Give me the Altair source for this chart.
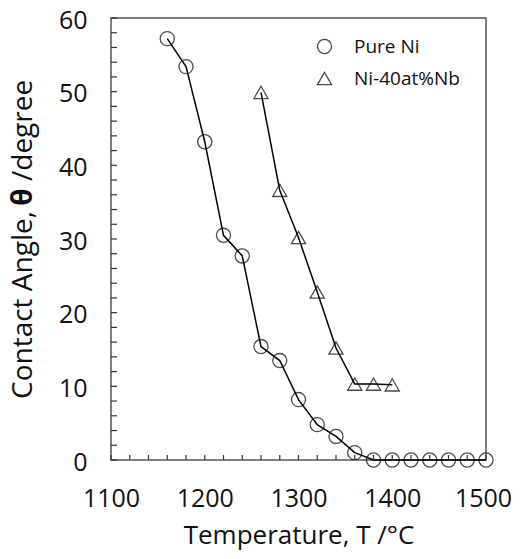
import altair as alt
import pandas as pd

# ---- data ----
ni_temp = [1160, 1180, 1200, 1220, 1240, 1260, 1280, 1300, 1320, 1340, 1360,
           1380, 1400, 1420, 1440, 1460, 1480, 1500]
ni_angle = [57.2, 53.4, 43.2, 30.5, 27.7, 15.4, 13.5, 8.2, 4.8, 3.2, 1.0,
            0, 0, 0, 0, 0, 0, 0]
nb_temp = [1260, 1280, 1300, 1320, 1340, 1360, 1380, 1400]
nb_angle = [49.9, 36.6, 30.2, 22.8, 15.2, 10.3, 10.3, 10.2]
series_names = ["Pure Ni", "Ni-40at%Nb"]
x_labels = [1100, 1200, 1300, 1400, 1500]
y_labels = [0, 10, 20, 30, 40, 50, 60]
x_minor = list(range(1100, 1501, 20))
y_minor = list(range(0, 61, 2))

FONT = "Open Sans"
W, H = 375, 442

df = pd.concat([
    pd.DataFrame({"T": ni_temp, "angle": ni_angle, "series": series_names[0]}),
    pd.DataFrame({"T": nb_temp, "angle": nb_angle, "series": series_names[1]}),
])

xs = alt.Scale(domain=[1100, 1500], nice=False, zero=False)
ys = alt.Scale(domain=[0, 60], nice=False)

x_enc = alt.X("T:Q", scale=xs,
              axis=alt.Axis(values=x_labels, format="d", ticks=False, domain=False, grid=False,
                            labelFlush=False, labelFontSize=25, labelFont=FONT, labelColor="#111",
                            labelOffset={"condition": {"test": "datum.value == 1500", "value": -3},
                                         "value": 0},
                            labelPadding=26, title="Temperature, T /°C",
                            titleFont=FONT, titleFontSize=26, titleFontWeight="normal",
                            titleColor="#111", titlePadding=11))
y_enc = alt.Y("angle:Q", scale=ys,
              axis=alt.Axis(values=y_labels, format="d", ticks=False, domain=False, grid=False,
                            labelFlush=False, labelFontSize=25, labelFont=FONT, labelColor="#111",
                            labelPadding=24, labelOffset=2, title=None))

base = alt.Chart(df)

lines = base.mark_line(color="black", strokeWidth=1.5).encode(
    x=x_enc, y=y_enc, detail="series:N")

points = base.mark_point(filled=False, size=200, strokeWidth=1.3, color="black").encode(
    x=alt.X("T:Q", scale=xs),
    y=alt.Y("angle:Q", scale=ys),
    shape=alt.Shape("series:N",
                    scale=alt.Scale(domain=series_names, range=["circle", "triangle-up"]),
                    legend=alt.Legend(title=None, orient="none", legendX=204, legendY=19,
                                      symbolSize=200, symbolStrokeColor="black",
                                      symbolFillColor="transparent", symbolStrokeWidth=1.3,
                                      labelFont=FONT, labelFontSize=19, labelColor="#111",
                                      labelOffset=20, rowPadding=12, padding=0)),
)

xt = alt.Chart(pd.DataFrame({"v": x_minor})).mark_rule(color="#333", strokeWidth=1.2).encode(
    x=alt.X("v:Q", scale=xs), y=alt.value(H), y2=alt.value(H - 5))
yt = alt.Chart(pd.DataFrame({"v": y_minor})).mark_rule(color="#333", strokeWidth=1.2).encode(
    y=alt.Y("v:Q", scale=ys), x=alt.value(0), x2=alt.value(6))

title_df = pd.DataFrame({"a": [0]})
TX = -87
t1 = alt.Chart(title_df).mark_text(angle=270, align="right", baseline="middle",
                                   font=FONT, fontSize=28, color="#111").encode(
    x=alt.value(TX), y=alt.value(193), text=alt.value("Contact Angle,"))
t2 = alt.Chart(title_df).mark_text(angle=270, align="center", baseline="middle",
                                   font=FONT, fontSize=28, fontWeight="bold", color="#111").encode(
    x=alt.value(TX), y=alt.value(179), text=alt.value("θ"))
t3 = alt.Chart(title_df).mark_text(angle=270, align="left", baseline="middle",
                                   font=FONT, fontSize=28, color="#111").encode(
    x=alt.value(TX), y=alt.value(163), text=alt.value("/degree"))

chart = alt.layer(lines, points, xt, yt, t1, t2, t3).properties(
    width=W, height=H,
    autosize=alt.AutoSizeParams(type="none"),
    padding={"left": 103, "top": 10, "right": 26, "bottom": 91},
).configure_view(stroke="#555", strokeWidth=1.5)

chart.save("out.html", embed_options={"renderer": "svg", "actions": False})
